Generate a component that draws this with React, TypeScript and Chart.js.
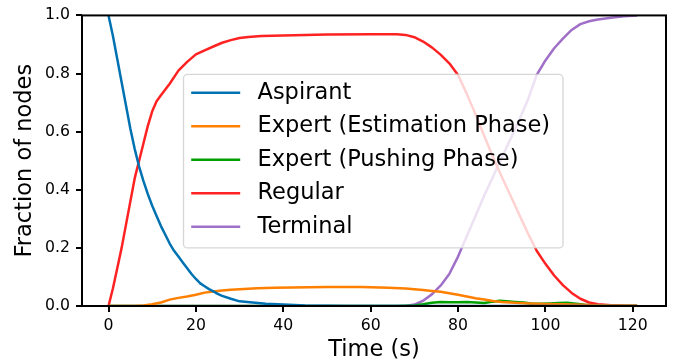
import React, { useEffect, useRef } from "react";
import { Chart, registerables } from "chart.js";

Chart.register(...registerables);

// ---- Data ----
const seriesNames = [
  "Aspirant",
  "Expert (Estimation Phase)",
  "Expert (Pushing Phase)",
  "Regular",
  "Terminal",
];

const aspirantT = [0, 1, 2, 3, 4, 5, 6, 7, 8, 9, 10, 11, 12, 13, 14, 15, 16, 17, 18, 19, 20, 21, 22, 23, 24, 25, 26, 28, 30, 33, 36, 40, 45, 50, 55, 60, 121];
const aspirantV = [1.0, 0.93, 0.85, 0.77, 0.69, 0.61, 0.54, 0.48, 0.43, 0.385, 0.345, 0.31, 0.275, 0.245, 0.215, 0.19, 0.17, 0.15, 0.13, 0.11, 0.093, 0.078, 0.068, 0.058, 0.05, 0.042, 0.035, 0.025, 0.016, 0.012, 0.008, 0.005, 0.002, 0.001, 0, 0, 0];

const estimationT = [0, 6, 8, 10, 12, 14, 16, 18, 20, 22, 24, 26, 28, 30, 34, 38, 42, 50, 58, 64, 68, 72, 74, 76, 78, 80, 82, 84, 86, 88, 90, 93, 96, 100, 104, 108, 112, 116, 121];
const estimationV = [0, 0, 0.002, 0.006, 0.012, 0.022, 0.028, 0.033, 0.039, 0.046, 0.05, 0.053, 0.056, 0.058, 0.061, 0.063, 0.064, 0.065, 0.065, 0.063, 0.06, 0.055, 0.052, 0.049, 0.044, 0.039, 0.033, 0.027, 0.022, 0.017, 0.014, 0.011, 0.009, 0.007, 0.006, 0.004, 0.003, 0.002, 0.002];

const pushingT = [0, 66, 70, 72, 74, 76, 78, 80, 82, 84, 86, 88, 89.5, 91, 93, 95, 97, 99, 101, 103, 105, 107, 109, 111, 113, 121];
const pushingV = [0, 0, 0.002, 0.006, 0.011, 0.014, 0.013, 0.013, 0.014, 0.012, 0.01, 0.015, 0.018, 0.016, 0.014, 0.012, 0.008, 0.008, 0.009, 0.01, 0.011, 0.008, 0.004, 0.002, 0.001, 0];

const regularT = [0, 1, 2, 3, 4, 5, 6, 7, 8, 9, 10, 11, 12, 13, 14, 16, 18, 20, 22, 24, 26, 28, 30, 32, 35, 40, 50, 60, 66, 68, 70, 72, 74, 76, 78, 80, 82, 84, 86, 88, 89, 90, 92, 94, 96, 98, 100, 102, 104, 106, 108, 110, 112, 115, 118, 121];
const regularV = [0, 0.06, 0.13, 0.2, 0.28, 0.36, 0.44, 0.5, 0.56, 0.62, 0.67, 0.705, 0.725, 0.745, 0.765, 0.81, 0.84, 0.866, 0.88, 0.893, 0.906, 0.915, 0.922, 0.926, 0.929, 0.931, 0.934, 0.935, 0.935, 0.933, 0.925, 0.91, 0.89, 0.865, 0.835, 0.795, 0.73, 0.66, 0.585, 0.513, 0.478, 0.445, 0.38, 0.315, 0.25, 0.19, 0.145, 0.105, 0.072, 0.045, 0.025, 0.012, 0.006, 0.003, 0.001, 0];

const terminalT = [0, 66, 68, 70, 72, 74, 76, 78, 80, 82, 84, 86, 88, 89, 90, 92, 94, 96, 98, 100, 102, 104, 106, 108, 110, 112, 115, 118, 121];
const terminalV = [0, 0, 0, 0.005, 0.018, 0.04, 0.07, 0.11, 0.17, 0.24, 0.31, 0.38, 0.445, 0.478, 0.51, 0.575, 0.64, 0.71, 0.795, 0.845, 0.887, 0.92, 0.95, 0.97, 0.98, 0.986, 0.992, 0.997, 1.0];

const xTicks = [0, 20, 40, 60, 80, 100, 120];
const yTicks = [0, 0.2, 0.4, 0.6, 0.8, 1.0];
const xMin = -6.07;
const xMax = 127.6;

const colors = ["#0072b2", "#ff7f00", "#00a000", "#ff2222", "#a070c8"];

const FONT = "'DejaVu Sans', sans-serif";

const zip = (t: number[], v: number[]) => t.map((x, i) => ({ x, y: v[i] }));

const frameAndLegend = {
  id: "frameAndLegend",
  afterDatasetsDraw(chart: any) {
    const ctx = chart.ctx as CanvasRenderingContext2D;
    const { left, top, right, bottom } = chart.chartArea;
    ctx.save();
    // spines
    ctx.strokeStyle = "#000";
    ctx.lineWidth = 2;
    ctx.strokeRect(left, top, right - left, bottom - top);

    // legend
    const bx = left + 101.5;
    const by = top + 59;
    const bw = 379.5;
    const bh = 173.5;
    ctx.beginPath();
    (ctx as any).roundRect(bx, by, bw, bh, 4);
    ctx.fillStyle = "rgba(255,255,255,0.8)";
    ctx.fill();
    ctx.strokeStyle = "rgba(204,204,204,0.8)";
    ctx.lineWidth = 1.3;
    ctx.stroke();

    ctx.font = `22.5px ${FONT}`;
    ctx.textBaseline = "middle";
    ctx.textAlign = "left";
    chart.data.datasets.forEach((ds: any, i: number) => {
      const y = by + 18.3 + i * 33.5;
      ctx.beginPath();
      ctx.moveTo(bx + 7.7, y);
      ctx.lineTo(bx + 56.7, y);
      ctx.strokeStyle = ds.borderColor;
      ctx.lineWidth = 2.6;
      ctx.stroke();
      ctx.fillStyle = "#000";
      ctx.fillText(ds.label, bx + 74, y);
    });
    ctx.restore();
  },
};

export default function App() {
  const ref = useRef<HTMLCanvasElement | null>(null);

  useEffect(() => {
    if (!ref.current) return;
    Chart.defaults.font.family = FONT;
    const series = [
      zip(aspirantT, aspirantV),
      zip(estimationT, estimationV),
      zip(pushingT, pushingV),
      zip(regularT, regularV),
      zip(terminalT, terminalV),
    ];
    const chart = new Chart(ref.current, {
      type: "line",
      data: {
        datasets: series.map((d, i) => ({
          label: seriesNames[i],
          data: d,
          borderColor: colors[i],
          backgroundColor: colors[i],
          borderWidth: 2.5,
          pointRadius: 0,
          tension: 0,
          fill: false,
          borderJoinStyle: "round" as const,
        })),
      },
      options: {
        responsive: false,
        animation: false,
        layout: { padding: { top: 15, right: 7, left: 0, bottom: 0 } },
        plugins: {
          legend: { display: false },
          tooltip: { enabled: false },
        },
        scales: {
          x: {
            type: "linear",
            min: xMin,
            max: xMax,
            afterFit: (s: any) => {
              s.height = 54;
            },
            afterBuildTicks: (s: any) => {
              s.ticks = xTicks.map((v) => ({ value: v }));
            },
            grid: {
              drawOnChartArea: false,
              drawTicks: true,
              tickLength: 6,
              color: "#000",
              lineWidth: 2,
            },
            border: { display: false },
            ticks: {
              color: "#000",
              padding: 5,
              font: { size: 15.7, family: FONT },
              maxRotation: 0,
              callback: (v: any) => String(v),
            },
            title: {
              display: true,
              text: "Time (s)",
              color: "#000",
              font: { size: 22.5, family: FONT },
              padding: { top: 0, bottom: -3.5 },
            },
          },
          y: {
            type: "linear",
            min: 0,
            max: 1,
            afterFit: (s: any) => {
              s.width = 82;
            },
            afterBuildTicks: (s: any) => {
              s.ticks = yTicks.map((v) => ({ value: v }));
            },
            grid: {
              drawOnChartArea: false,
              drawTicks: true,
              tickLength: 6,
              color: "#000",
              lineWidth: 2,
            },
            border: { display: false },
            ticks: {
              color: "#000",
              padding: 6,
              font: { size: 15.7, family: FONT },
              callback: (v: any) => Number(v).toFixed(1),
            },
            title: {
              display: true,
              text: "Fraction of nodes",
              color: "#000",
              font: { size: 22.5, family: FONT },
              padding: { top: 12, bottom: 0 },
            },
          },
        },
      },
      plugins: [frameAndLegend],
    });
    return () => chart.destroy();
  }, []);

  return (
    <div style={{ position: "fixed", left: 0, top: 0, width: 673, height: 360, background: "#fff" }}>
      <canvas ref={ref} width={673} height={360} style={{ width: 673, height: 360 }} />
    </div>
  );
}
